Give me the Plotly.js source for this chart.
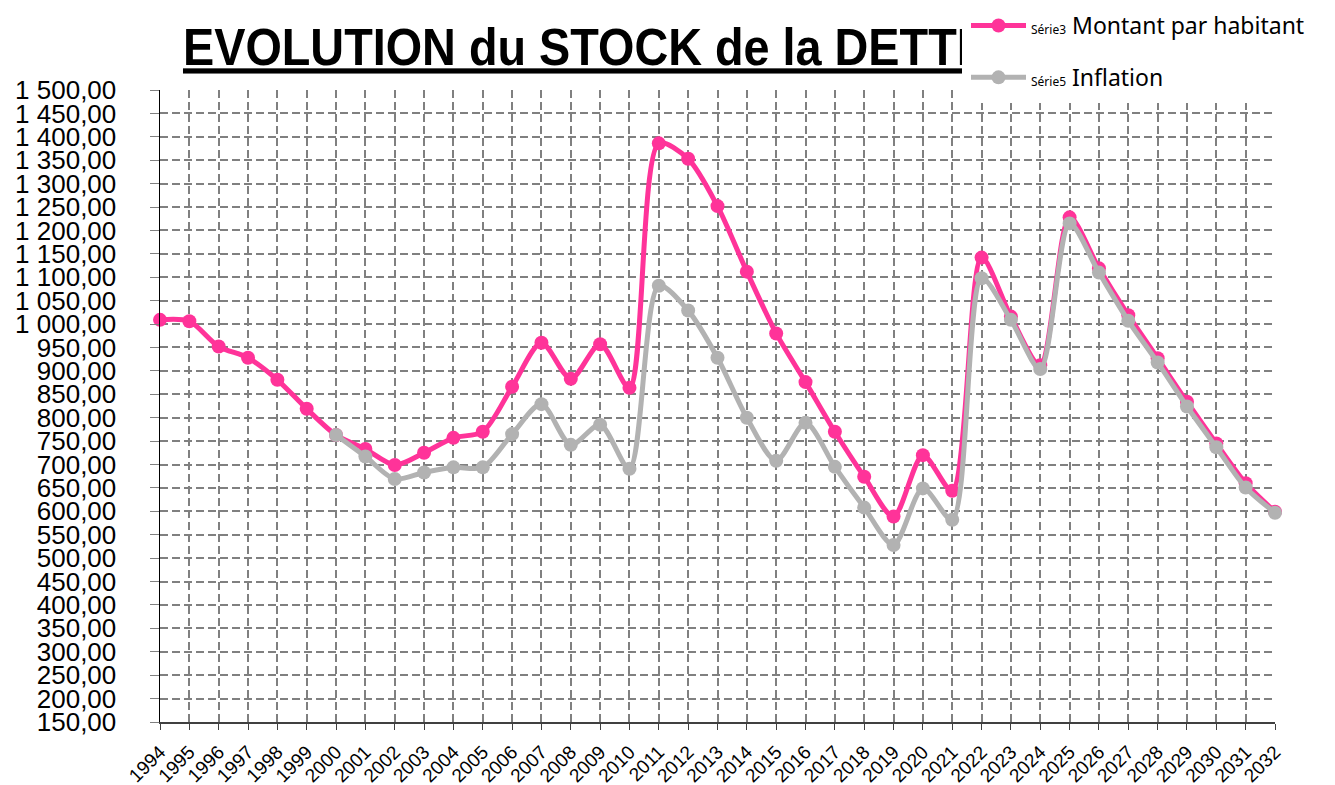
<!DOCTYPE html>
<html>
<head>
<meta charset="utf-8">
<script src="https://cdn.plot.ly/plotly-3.0.1.min.js"></script>
<style>html,body{margin:0;padding:0;background:#fff;}#chart{width:1335px;height:785px;}</style>
</head>
<body>
<div id="chart"></div>
<script>
const years = [1994,1995,1996,1997,1998,1999,2000,2001,2002,2003,2004,2005,2006,2007,2008,2009,2010,2011,2012,2013,2014,2015,2016,2017,2018,2019,2020,2021,2022,2023,2024,2025,2026,2027,2028,2029,2030,2031,2032];
const yearLabels = years.map(String);
const montantParHabitant = [1009,1006,952,928,881,819,763,733,699,725,757,770,866,960,883,957,864,1386,1353,1252,1112,980,876,770,674,589,720,644,1142,1016,912,1228,1119,1019,927,834,745,660,599];
const inflation = [null,null,null,null,null,null,763,717,669,683,694,694,765,829,742,785,691,1082,1029,928,800,708,789,695,608,528,649,582,1098,1009,904,1215,1110,1007,918,824,737,651,597];
const yTicks = [150,200,250,300,350,400,450,500,550,600,650,700,750,800,850,900,950,1000,1050,1100,1150,1200,1250,1300,1350,1400,1450,1500];
const titleText = 'EVOLUTION du STOCK de la DETTE';
const name1 = '<span style="font-size:12px">Série3</span> Montant par habitant';
const name2 = '<span style="font-size:12px">Série5</span> Inflation';

const traces = [
  {x: years, y: montantParHabitant, name: name1, type: 'scatter', mode: 'lines+markers',
   line: {color: '#FF3399', width: 5, shape: 'spline', smoothing: 0.8},
   marker: {color: '#FF3399', size: 14}, cliponaxis: false, legendgroup: 'a'},
  {x: years, y: inflation, name: name2, type: 'scatter', mode: 'lines+markers',
   line: {color: '#B2B2B2', width: 5, shape: 'spline', smoothing: 0.8},
   marker: {color: '#B2B2B2', size: 14}, cliponaxis: false, connectgaps: false, legendgroup: 'b'}
];

const layout = {
  width: 1335, height: 785,
  margin: {l: 160, r: 60, t: 90, b: 63, autoexpand: false},
  paper_bgcolor: '#ffffff', plot_bgcolor: '#ffffff',
  separators: ', ',
  font: {family: 'Liberation Sans, Arial, sans-serif', color: '#000'},
  title: {text: titleText, xref: 'container', x: 183/1335, xanchor: 'left',
          yref: 'container', y: 1 - 47/785, yanchor: 'middle',
          font: {family: 'Liberation Sans, Arial, sans-serif', size: 52, weight: 'bold', color: '#000', lineposition: 'under'}},
  xaxis: {range: [1994, 2032], tickvals: years, ticktext: yearLabels, tickangle: -45,
          tickfont: {size: 19, color: '#000'}, showgrid: true, gridcolor: '#808080', gridwidth: 2,
          griddash: '8px,4px', showline: true, linecolor: '#404040', linewidth: 1.5,
          ticks: 'outside', ticklen: 6, tickcolor: '#404040', ticklabelstandoff: 4, zeroline: false, fixedrange: true},
  yaxis: {range: [150, 1500], tickvals: yTicks, tickformat: ',.2f',
          tickfont: {size: 26, color: '#000'}, showgrid: true, gridcolor: '#808080', gridwidth: 2,
          griddash: '8px,4px', showline: true, linecolor: '#000', linewidth: 1.5,
          ticks: 'outside', ticklen: 9, tickcolor: '#808080', ticklabelstandoff: 28, zeroline: false, fixedrange: true},
  showlegend: true,
  legend: {xref: 'container', x: 962/1335, xanchor: 'left', yref: 'container', y: 1, yanchor: 'top',
           bgcolor: '#ffffff', bordercolor: '#ffffff', borderwidth: 4,
           font: {family: 'Noto Sans, sans-serif', size: 23, color: '#000'},
           tracegroupgap: 19, traceorder: 'grouped', itemwidth: 55}
};

Plotly.newPlot('chart', traces, layout, {displayModeBar: false, staticPlot: true}).then(function(gd) {
  const t = gd.querySelector('text.gtitle');
  if (t) {
    const x0 = 183;
    const prev = t.getAttribute('transform') || '';
    t.setAttribute('transform', prev + ' translate(' + x0 + ',0) scale(0.9,1) translate(' + (-x0) + ',0)');
  }
  const leg = gd.querySelector('g.legend');
  if (leg && leg.parentNode) leg.parentNode.appendChild(leg);
});
</script>
</body>
</html>
